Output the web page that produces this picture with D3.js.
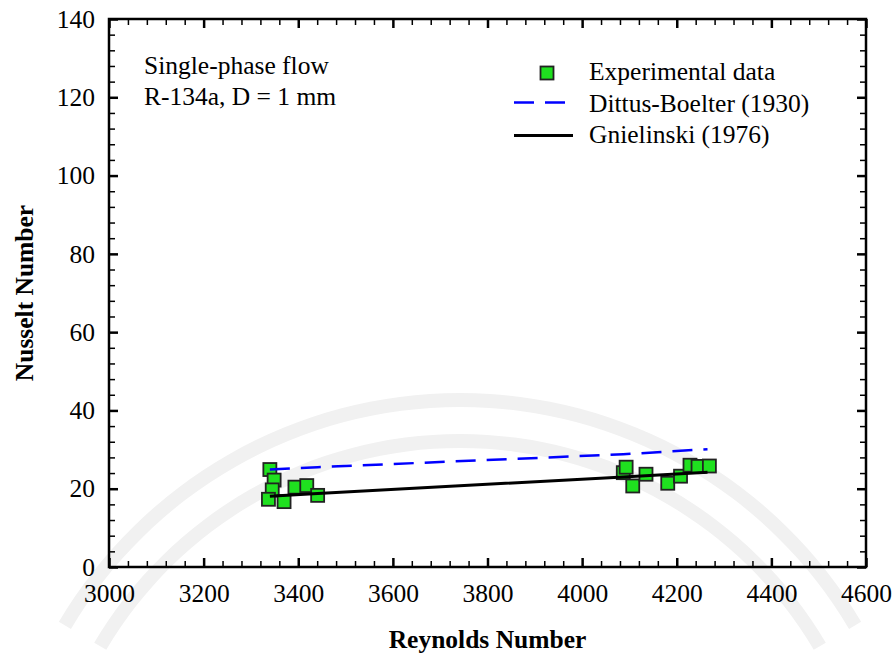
<!DOCTYPE html>
<html>
<head>
<meta charset="utf-8">
<script src="https://cdn.jsdelivr.net/npm/d3@7"></script>
<style>
  body { margin: 0; background: #fff; }
</style>
</head>
<body>
<script>
// experimental points
var expRe = [3340, 3349, 3345, 3337, 3370, 3393, 3418, 3441, 4087, 4093, 4107, 4135, 4181, 4208, 4228, 4245, 4269];
var expNu = [24.9, 22.2, 19.7, 17.3, 16.7, 20.4, 20.8, 18.3, 24.1, 25.5, 20.7, 23.7, 21.4, 23.2, 26.0, 25.7, 25.8];

// correlations
var corrRe = [3340, 3441, 4087, 4265];
var dittusNu = [24.9, 25.5, 28.8, 30.1];
var gnielNu = [18.1, 18.8, 23.0, 24.2];

var xTicks = [3000, 3200, 3400, 3600, 3800, 4000, 4200, 4400, 4600];
var yTicks = [0, 20, 40, 60, 80, 100, 120, 140];

var legendNames = ["Experimental data", "Dittus-Boelter (1930)", "Gnielinski (1976)"];
var noteLines = ["Single-phase flow", "R-134a, D = 1 mm"];

var FONT = "'Liberation Serif'";
var FS = "25.5px";

var W = 896, H = 659;
var m = {left: 109, top: 19, right: 30, bottom: 92};
var w = W - m.left - m.right, h = H - m.top - m.bottom;

var svg = d3.select("body").append("svg")
    .attr("width", W)
    .attr("height", H);

// faint watermark arcs in background
var wm = svg.append("g").attr("class", "watermark");
[459, 418].forEach(function(r){
    wm.append("path")
        .attr("d", d3.arc()({innerRadius: r - 7, outerRadius: r + 7, startAngle: -Math.PI * 0.33, endAngle: Math.PI * 0.33}))
        .attr("transform", "translate(460,859)")
        .style("fill", "#f1f1f1");
});

var g = svg.append("g").attr("transform", "translate(" + m.left + "," + m.top + ")");

var x = d3.scaleLinear().domain([3000, 4600]).range([0, w]);
var y = d3.scaleLinear().domain([0, 140]).range([h, 0]);

var xMinor = d3.range(3000, 4601, 40).filter(function(v){ return v % 200 !== 0; });
var yMinor = d3.range(0, 141, 4).filter(function(v){ return v % 20 !== 0; });

function styleAxis(sel, width){
    sel.select(".domain").remove();
    sel.selectAll("line").style("stroke", "#000").style("stroke-width", width);
    sel.selectAll("text")
        .style("font-size", FS)
        .style("font-family", FONT)
        .style("fill", "#000");
}

// minor ticks, all four sides
g.append("g").attr("transform", "translate(0," + h + ")")
    .call(d3.axisBottom(x).tickValues(xMinor).tickSize(-6).tickFormat(""))
    .call(styleAxis, 1.5);
g.append("g")
    .call(d3.axisTop(x).tickValues(xMinor).tickSize(-6).tickFormat(""))
    .call(styleAxis, 1.5);
g.append("g")
    .call(d3.axisLeft(y).tickValues(yMinor).tickSize(-6).tickFormat(""))
    .call(styleAxis, 1.5);
g.append("g").attr("transform", "translate(" + w + ",0)")
    .call(d3.axisRight(y).tickValues(yMinor).tickSize(-6).tickFormat(""))
    .call(styleAxis, 1.5);

// major ticks
g.append("g").attr("transform", "translate(0," + h + ")")
    .call(d3.axisBottom(x).tickValues(xTicks).tickSize(-9).tickPadding(17).tickFormat(d3.format("d")))
    .call(styleAxis, 2.5);
g.append("g")
    .call(d3.axisTop(x).tickValues(xTicks).tickSize(-9).tickFormat(""))
    .call(styleAxis, 2.5);
g.append("g")
    .call(d3.axisLeft(y).tickValues(yTicks).tickSize(-9).tickPadding(14))
    .call(styleAxis, 2.5);
g.append("g").attr("transform", "translate(" + w + ",0)")
    .call(d3.axisRight(y).tickValues(yTicks).tickSize(-9).tickFormat(""))
    .call(styleAxis, 2.5);

// frame
g.append("rect")
    .attr("width", w)
    .attr("height", h)
    .style("fill", "none")
    .style("stroke", "#000")
    .style("stroke-width", 2.5);

// experimental squares
var pts = expRe.map(function(d, i){ return [d, expNu[i]]; });
g.selectAll(".pt")
    .data(pts)
    .enter()
    .append("rect")
    .attr("class", "pt")
    .attr("x", function(d){ return x(d[0]) - 6.5; })
    .attr("y", function(d){ return y(d[1]) - 6.5; })
    .attr("width", 13)
    .attr("height", 13)
    .style("fill", "#1fe01f")
    .style("stroke", "#222")
    .style("stroke-width", 1.8);

var line = d3.line()
    .x(function(d){ return x(d[0]); })
    .y(function(d){ return y(d[1]); });

g.append("path")
    .datum(corrRe.map(function(d, i){ return [d, dittusNu[i]]; }))
    .attr("d", line)
    .style("fill", "none")
    .style("stroke", "#0000ff")
    .style("stroke-width", 2.5)
    .style("stroke-dasharray", "20,11");

g.append("path")
    .datum(corrRe.map(function(d, i){ return [d, gnielNu[i]]; }))
    .attr("d", line)
    .style("fill", "none")
    .style("stroke", "#000")
    .style("stroke-width", 3);

// note text top-left
svg.selectAll(".note")
    .data(noteLines)
    .enter()
    .append("text")
    .attr("class", "note")
    .attr("x", 144)
    .attr("y", function(d, i){ return 74 + i * 31; })
    .style("font-family", FONT)
    .style("font-size", FS)
    .text(function(d){ return d; });

// legend
var leg = svg.append("g").attr("class", "legend");
leg.selectAll("text")
    .data(legendNames)
    .enter()
    .append("text")
    .attr("x", 589)
    .attr("y", function(d, i){ return 80 + i * 31.5; })
    .style("font-family", FONT)
    .style("font-size", FS)
    .text(function(d){ return d; });
leg.append("rect")
    .attr("x", 540.5).attr("y", 66.5)
    .attr("width", 13).attr("height", 13)
    .style("fill", "#1fe01f")
    .style("stroke", "#222")
    .style("stroke-width", 1.8);
leg.append("line")
    .attr("x1", 514).attr("x2", 566).attr("y1", 102.5).attr("y2", 102.5)
    .style("stroke", "#0000ff")
    .style("stroke-width", 2.5)
    .style("stroke-dasharray", "20,11");
leg.append("line")
    .attr("x1", 514).attr("x2", 573).attr("y1", 135.5).attr("y2", 135.5)
    .style("stroke", "#000")
    .style("stroke-width", 3);

// axis titles
svg.append("text")
    .attr("x", m.left + w / 2)
    .attr("y", 648)
    .attr("text-anchor", "middle")
    .style("font-family", FONT)
    .style("font-size", FS)
    .style("font-weight", "bold")
    .text("Reynolds Number");

svg.append("text")
    .attr("transform", "translate(33," + (m.top + h / 2) + ") rotate(-90)")
    .attr("text-anchor", "middle")
    .style("font-family", FONT)
    .style("font-size", FS)
    .style("font-weight", "bold")
    .text("Nusselt Number");
</script>
</body>
</html>
